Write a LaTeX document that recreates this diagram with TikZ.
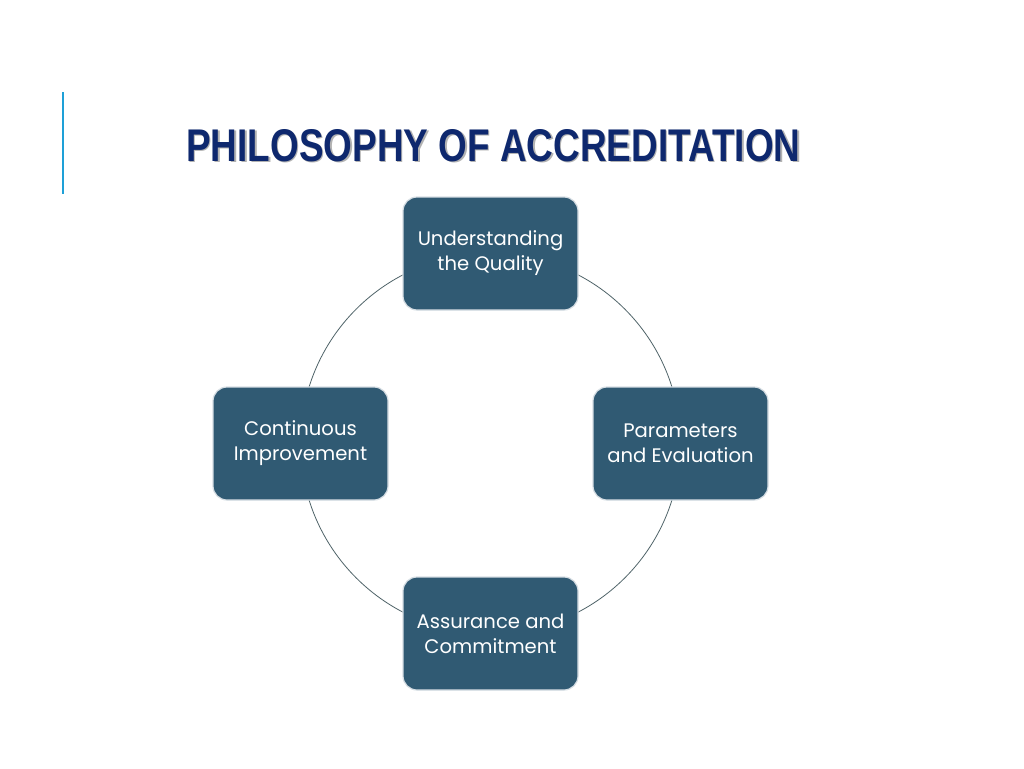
\documentclass[tikz,border=0pt]{standalone}
\usepackage{fontspec}
\setmainfont{Poppins}
\newfontfamily\titlefont{Liberation Sans}
\definecolor{boxfill}{RGB}{48,90,115}
\definecolor{boxedge}{RGB}{214,222,228}
\definecolor{titlecol}{RGB}{14,40,110}
\definecolor{accent}{RGB}{30,160,215}
\definecolor{arccol}{RGB}{80,100,105}
\tikzset{
  stage/.style={draw=boxedge, line width=1.2pt, fill=boxfill, rounded corners=14pt,
    minimum width=175pt, minimum height=113pt, text=white, align=center,
    font=\fontsize{19.6}{25}\selectfont, inner sep=0pt},
}
\begin{document}
\begin{tikzpicture}[x=1pt,y=-1pt]
\useasboundingbox (0,0) rectangle (1024,768);
\fill[white] (0,0) rectangle (1024,768);
\draw[accent, line width=2pt] (63,92) -- (63,194);
\node[anchor=south west, inner sep=0pt, text=black!30] (shadow) at (187.5,163.5) {\resizebox{614pt}{32pt}{\titlefont\bfseries PHILOSOPHY OF ACCREDITATION}};
\node[anchor=south west, inner sep=0pt, text=titlecol] (title) at (186,162) {\resizebox{614pt}{32pt}{\titlefont\bfseries PHILOSOPHY OF ACCREDITATION}};
\coordinate (c) at (490.5,443.5);
\draw[arccol, line width=0.8pt] (c) circle[radius=190];
\node[stage] (top) at (490.5,253.5) {Understanding\\the Quality};
\node[stage] (right) at (680.5,443.5) {Parameters\\and Evaluation};
\node[stage] (bottom) at (490.5,633.5) {Assurance and\\Commitment};
\node[stage] (left) at (300.5,443.5) {Continuous\\Improvement};
\end{tikzpicture}
\end{document}
